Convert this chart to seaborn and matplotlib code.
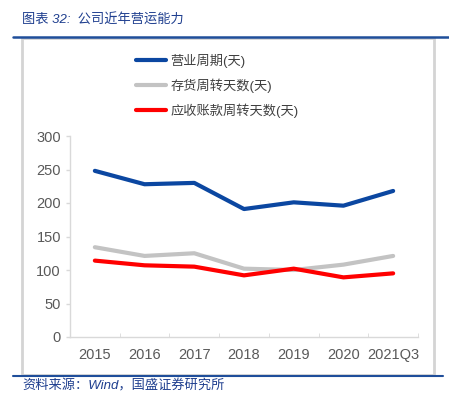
import pandas as pd
import matplotlib
matplotlib.use("Agg")
import matplotlib.pyplot as plt
import seaborn as sns
from matplotlib.patches import Rectangle
from matplotlib.lines import Line2D

# data
years = ["2015", "2016", "2017", "2018", "2019", "2020", "2021Q3"]
operating_cycle = [248, 228, 230, 191, 201, 196, 218]
inventory_days = [134, 121, 125, 102, 100, 108, 121]
receivable_days = [114, 107, 105, 92, 102, 89, 95]

series_names = ["营业周期(天)", "存货周转天数(天)", "应收账款周转天数(天)"]
colors = ["#0b47a1", "#c3c3c3", "#ff0000"]

df = pd.DataFrame({
    "year": years * 3,
    "days": operating_cycle + inventory_days + receivable_days,
    "series": [series_names[0]] * 7 + [series_names[1]] * 7 + [series_names[2]] * 7,
})

sns.set_style("white")
plt.rcParams["font.family"] = ["Liberation Sans", "Noto Sans CJK SC", "DejaVu Sans"]

fig = plt.figure(figsize=(4.49, 3.99), dpi=100)
ax = fig.add_axes([70 / 449, 62 / 399, 348 / 449, 201 / 399])

sns.lineplot(data=df, x="year", y="days", hue="series", palette=colors,
             linewidth=3, ax=ax, sort=False, legend=False)

ax.set_ylim(0, 300)
ax.set_xlim(-0.5, 6.5)
ax.set_yticks(range(0, 301, 50))
ax.set_xlabel("")
ax.set_ylabel("")
for s in ["top", "right"]:
    ax.spines[s].set_visible(False)
for s in ["left", "bottom"]:
    ax.spines[s].set_color("#d9d9d9")
    ax.spines[s].set_linewidth(1)
ax.tick_params(axis="y", colors="#d9d9d9", labelcolor="#595959", labelsize=10.5,
               length=3, width=1, direction="out", left=True)
ax.tick_params(axis="x", labelcolor="#595959", labelsize=10.5, length=0, pad=8)
# small tick marks between categories
ax.set_xticks([i + 0.5 for i in range(-1, 7)], minor=True)
ax.tick_params(axis="x", which="minor", direction="in", length=3, color="#d9d9d9", bottom=True)

handles = [Line2D([0], [0], color=c, lw=3) for c in colors]
fig.legend(handles, series_names, loc="upper left", bbox_to_anchor=(124 / 449, 1 - 42 / 399),
           frameon=False, fontsize=9.5, handlelength=2.3, handletextpad=0.3,
           labelspacing=0.8, labelcolor="#404040")

# frame and title bars
fig.patches.append(Rectangle((22 / 449, 24 / 399), 412 / 449, 337 / 399, transform=fig.transFigure,
                             fill=False, edgecolor="#d4d4d4", linewidth=2))
fig.add_artist(Line2D([13 / 449, 1.0], [1 - 37 / 399, 1 - 37 / 399], color="#1f4e9a", lw=1.8))
fig.add_artist(Line2D([13 / 449, 443 / 449], [1 - 376 / 399, 1 - 376 / 399], color="#1f4e9a", lw=1.5))

fig.text(22 / 449, 1 - 19 / 399, "图表 32:  公司近年营运能力", color="#1f3f8f", fontsize=9.5,
         va="center", ha="left", style="italic")
fig.text(22 / 449, 1 - 386 / 399, "资料来源：Wind，国盛证券研究所", color="#1f3f8f", fontsize=9.5,
         va="center", ha="left", style="italic")

fig.savefig("out.png", dpi=100)
